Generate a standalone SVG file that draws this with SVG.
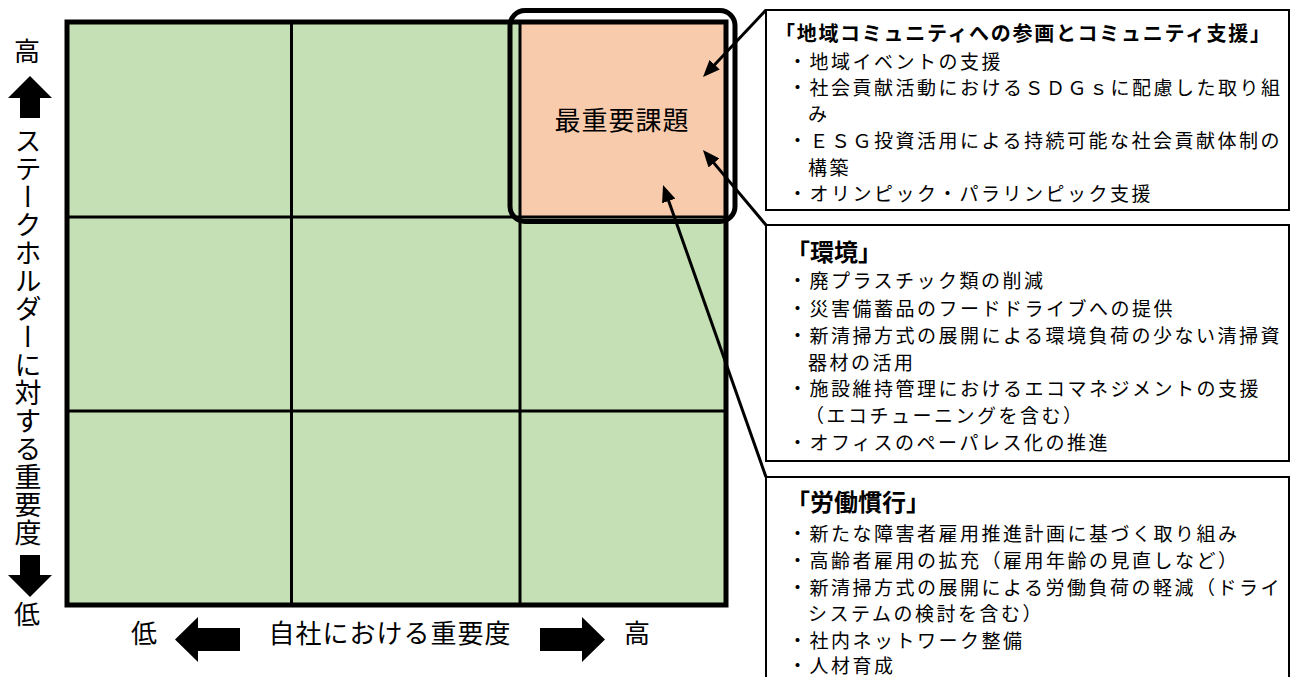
<svg xmlns="http://www.w3.org/2000/svg" width="1295" height="677" viewBox="0 0 1295 677">
<style>
.t{font-family:"Noto Sans CJK JP","Noto Sans CJK SC",sans-serif;fill:#000}
.ax{font-size:26px}
.bt{font-size:19px;letter-spacing:2.5px}
.h1{font-size:20px;font-weight:bold;letter-spacing:1.7px}
.h2{font-size:24px;font-weight:bold}
.box{fill:#fff;stroke:#000;stroke-width:2}
.cell{fill:#c5e0b4}
.conn{stroke:#000;stroke-width:3;fill:none}
.blk{fill:#000}
</style>
<defs>
<marker id="ah" markerUnits="userSpaceOnUse" viewBox="0 0 17 14" markerWidth="17" markerHeight="14" refX="9" refY="7" orient="auto">
<path d="M0,0 L17,7 L0,14 z" fill="#000"/>
</marker>
</defs>
<rect width="1295" height="677" fill="#fff"/>
<g id="matrix">
<rect class="cell" x="67" y="22" width="659" height="583"/>
<rect x="520" y="22" width="206" height="195" fill="#f8cbad"/>
<line x1="291.5" y1="22" x2="291.5" y2="605" stroke="#000" stroke-width="3"/>
<line x1="520" y1="22" x2="520" y2="605" stroke="#000" stroke-width="3"/>
<line x1="67" y1="217" x2="726" y2="217" stroke="#000" stroke-width="3"/>
<line x1="67" y1="411" x2="726" y2="411" stroke="#000" stroke-width="3"/>
<rect x="67" y="22" width="659" height="583" fill="none" stroke="#000" stroke-width="5"/>
</g>
<g id="top-priority">
<rect x="510" y="10.5" width="225" height="211" rx="15" ry="15" fill="none" stroke="#000" stroke-width="5"/>
<text class="t" x="622" y="130" font-size="26" letter-spacing="1" text-anchor="middle">最重要課題</text>
</g>
<g id="y-axis">
<text class="t ax" x="27" y="61" text-anchor="middle">高</text>
<polygon class="blk" points="30,76 52,98 40,98 40,118 20,118 20,98 8,98"/>
<text class="t" x="28" y="127" font-size="27" letter-spacing="1" writing-mode="vertical-rl">ステークホルダーに対する重要度</text>
<polygon class="blk" points="20,555 40,555 40,575 52,575 30,597 8,575 20,575"/>
<text class="t ax" x="27" y="624" text-anchor="middle">低</text>
</g>
<g id="x-axis">
<text class="t ax" x="144" y="643" text-anchor="middle">低</text>
<polygon class="blk" points="175,639.5 198,617 198,628 240,628 240,651 198,651 198,662"/>
<text class="t ax" x="390" y="643" letter-spacing="1" text-anchor="middle">自社における重要度</text>
<polygon class="blk" points="540,628 582,628 582,617 605,639.5 582,662 582,651 540,651"/>
<text class="t ax" x="637" y="643" text-anchor="middle">高</text>
</g>
<g id="box-community">
<rect class="box" x="766" y="10" width="523" height="200"/>
<text class="t h1" x="775" y="41">「地域コミュニティへの参画とコミュニティ支援」</text>
<text class="t bt" x="788" y="69">・地域イベントの支援</text>
<text class="t bt" x="788" y="95">・社会貢献活動におけるＳＤＧｓに配慮した取り組</text>
<text class="t bt" x="808" y="121">み</text>
<text class="t bt" x="788" y="148">・ＥＳＧ投資活用による持続可能な社会貢献体制の</text>
<text class="t bt" x="808" y="175">構築</text>
<text class="t bt" x="788" y="201">・オリンピック・パラリンピック支援</text>
</g>
<g id="box-environment">
<rect class="box" x="766" y="225" width="523" height="236"/>
<text class="t h2" x="786" y="261">「環境」</text>
<text class="t bt" x="788" y="288">・廃プラスチック類の削減</text>
<text class="t bt" x="788" y="316">・災害備蓄品のフードドライブへの提供</text>
<text class="t bt" x="788" y="343">・新清掃方式の展開による環境負荷の少ない清掃資</text>
<text class="t bt" x="808" y="370">器材の活用</text>
<text class="t bt" x="788" y="396">・施設維持管理におけるエコマネジメントの支援</text>
<text class="t bt" x="805" y="423">（エコチューニングを含む）</text>
<text class="t bt" x="788" y="450">・オフィスのペーパレス化の推進</text>
</g>
<g id="box-labor">
<rect class="box" x="766" y="477" width="523" height="215"/>
<text class="t h2" x="786" y="511">「労働慣行」</text>
<text class="t bt" x="788" y="541">・新たな障害者雇用推進計画に基づく取り組み</text>
<text class="t bt" x="788" y="568">・高齢者雇用の拡充（雇用年齢の見直しなど）</text>
<text class="t bt" x="788" y="595">・新清掃方式の展開による労働負荷の軽減（ドライ</text>
<text class="t bt" x="808" y="621">システムの検討を含む）</text>
<text class="t bt" x="788" y="648">・社内ネットワーク整備</text>
<text class="t bt" x="788" y="673">・人材育成</text>
</g>
<g id="connectors">
<line class="conn" x1="766" y1="10" x2="708.5" y2="71.2" marker-end="url(#ah)"/>
<line class="conn" x1="766" y1="225" x2="708.1" y2="156.1" marker-end="url(#ah)"/>
<line class="conn" x1="766" y1="477" x2="665.7" y2="192.5" marker-end="url(#ah)"/>
</g>
</svg>
